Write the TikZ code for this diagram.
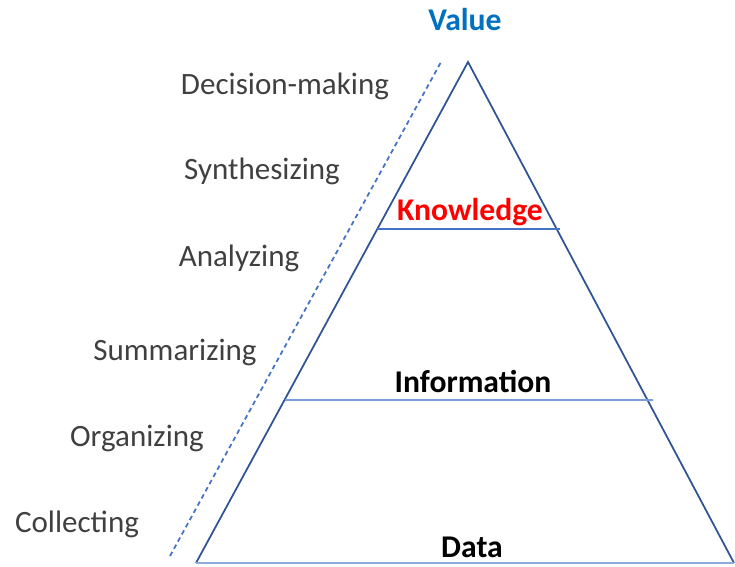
\documentclass[tikz,border=0pt]{standalone}
\usepackage{fontspec}
\setmainfont{Carlito}
\definecolor{edgeblue}{RGB}{47,84,150}
\definecolor{lineblue}{RGB}{68,114,196}
\definecolor{valueblue}{RGB}{0,112,192}
\definecolor{labelgray}{RGB}{64,64,64}
\begin{document}
\begin{tikzpicture}[x=0.03cm, y=-0.03cm,
		step label/.style={text=labelgray, font=\fontsize{26.5}{30}\selectfont},
		level label/.style={font=\bfseries\fontsize{27}{31}\selectfont}]
				\useasboundingbox (0,0) rectangle (735,567);
				\coordinate (apex) at (468,62);
				\coordinate (bl) at (196,563);
				\coordinate (br) at (734,563);
				\coordinate (kl) at (377,229);
				\coordinate (kr) at (560,229);
				\coordinate (il) at (285,400);
				\coordinate (ir) at (653,400);
				\coordinate (dtop) at (441,62);
				\coordinate (dbot) at (170,556);
				\draw[line width=1.5pt, edgeblue] (bl) -- (apex) -- (br);
				\draw[line width=1.8pt, lineblue] (kl) -- (kr);
				\draw[line width=1.8pt, lineblue!70] (il) -- (ir);
				\draw[line width=1.8pt, lineblue!60] (bl) -- (br);
				\draw[line width=1.5pt, lineblue, dash pattern=on 4pt off 3pt] (dbot) -- (dtop);
				\node[level label, text=valueblue] (value) at (465,20) {Value};
				\node[level label, text=red] (knowledge) at (470,212) {Knowledge};
				\node[level label] (information) at (473,381) {Information};
				\node[level label] (data) at (472,547) {Data};
				\node[step label] (decide) at (285,86) {Decision-making};
				\node[step label] (synth) at (262,171) {Synthesizing};
				\node[step label] (analyze) at (239,258) {Analyzing};
				\node[step label] (summ) at (175,352) {Summarizing};
				\node[step label] (organize) at (137,438) {Organizing};
				\node[step label] (collect) at (77,524) {Collecting};
			\end{tikzpicture}
\end{document}
